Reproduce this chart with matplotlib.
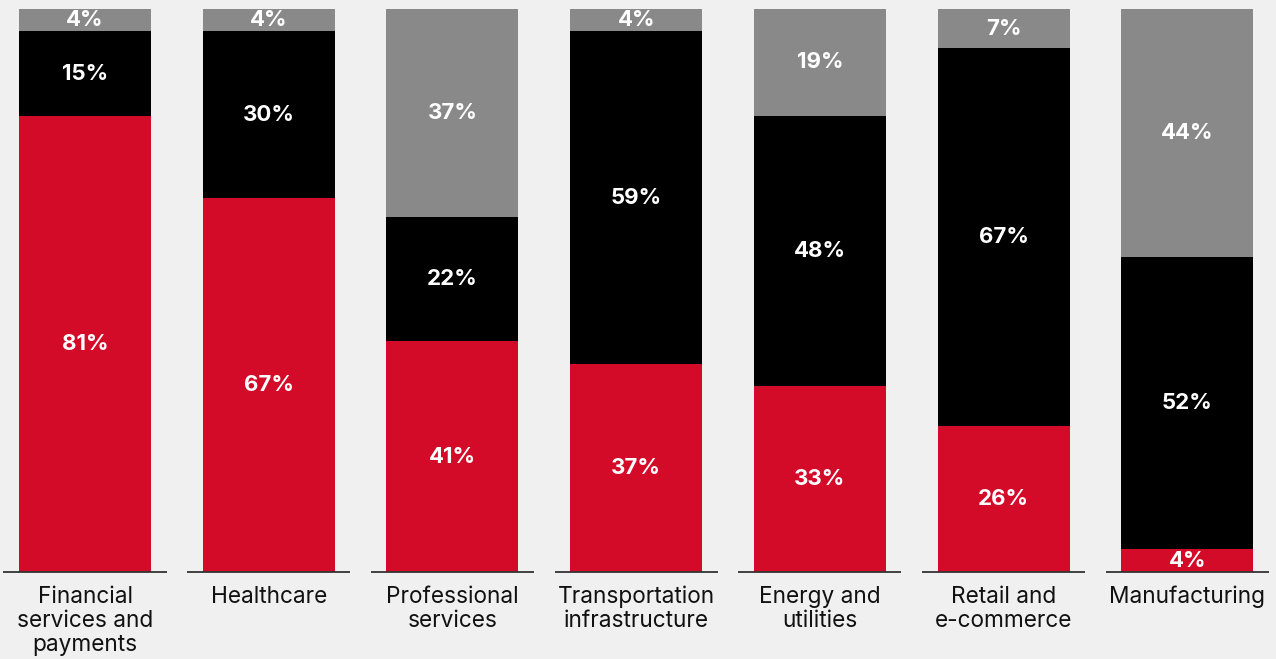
import matplotlib
matplotlib.use("Agg")
import matplotlib.pyplot as plt
import numpy as np

plt.rcParams["font.family"] = ["Inter", "DejaVu Sans"]

# Share of organisations per sector (%), stacked bottom to top
categories = [
    "Financial\nservices and\npayments",
    "Healthcare",
    "Professional\nservices",
    "Transportation\ninfrastructure",
    "Energy and\nutilities",
    "Retail and\ne-commerce",
    "Manufacturing",
]
red_vals = [81, 67, 41, 37, 33, 26, 4]
black_vals = [15, 30, 22, 59, 48, 67, 52]
gray_vals = [4, 4, 37, 4, 19, 7, 44]

RED = "#d30a28"
BLACK = "#000000"
GRAY = "#898989"
BG = "#f0f0f0"

fig = plt.figure(figsize=(12.76, 6.59), dpi=100, facecolor=BG)
ax = fig.add_axes([0, 0.132, 1, 0.8545])
ax.set_facecolor(BG)

x = np.arange(len(categories))
red = np.array(red_vals, float)
blk = np.array(black_vals, float)
gry = np.array(gray_vals, float)
tot = red + blk + gry
# scale each column to a full-height bar
r_s, b_s, g_s = red / tot * 100, blk / tot * 100, gry / tot * 100

w = 0.719
ax.bar(x, r_s, w, color=RED, linewidth=0)
ax.bar(x, b_s, w, bottom=r_s, color=BLACK, linewidth=0)
ax.bar(x, g_s, w, bottom=r_s + b_s, color=GRAY, linewidth=0)

for i in range(len(x)):
    segs = [(0, r_s[i], red_vals[i]), (r_s[i], b_s[i], black_vals[i]),
            (r_s[i] + b_s[i], g_s[i], gray_vals[i])]
    for base, h, v in segs:
        ax.text(x[i], base + h / 2, f"{v}%", ha="center", va="center",
                color="white", fontsize=16, fontweight="bold")
    # short baseline under each column
    ax.plot([x[i] - 0.444, x[i] + 0.444], [0, 0], color="#333333", lw=1.3,
            solid_capstyle="butt", clip_on=False)

ax.set_xlim(-0.4627, 6.483)
ax.set_ylim(0, 100)
ax.set_xticks(x)
ax.set_xticklabels(categories, fontsize=16.3, color="#111111", linespacing=1.12)
ax.tick_params(axis="x", length=0, pad=10)
ax.set_yticks([])
for s in ax.spines.values():
    s.set_visible(False)

fig.savefig("out.png", dpi=100, facecolor=BG)
